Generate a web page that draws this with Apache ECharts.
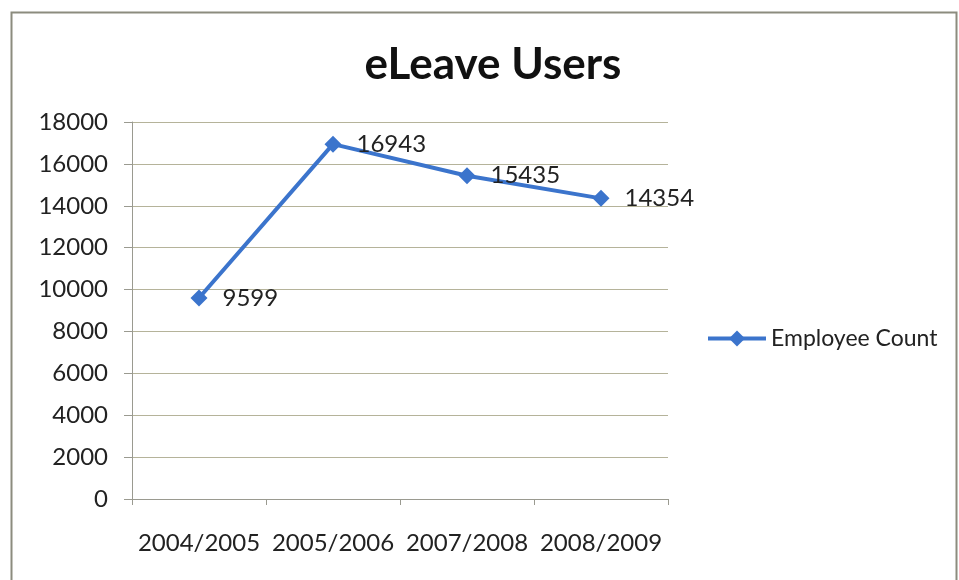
<!DOCTYPE html>
<html><head><meta charset="utf-8">
<script src="https://cdn.jsdelivr.net/npm/echarts@6/dist/echarts.min.js"></script>
<style>html,body{margin:0;padding:0;background:#fff}#c{width:959px;height:580px}</style>
</head><body><div id="c"></div>
<script>
const categories = ['2004/2005', '2005/2006', '2007/2008', '2008/2009'];
const employeeCount = [9599, 16943, 15435, 14354];
const seriesName = 'Employee Count';
const titleText = 'eLeave Users';

const chart = echarts.init(document.getElementById('c'));
const font = 'Lato, "Open Sans", sans-serif';
chart.setOption({
  animation: false,
  backgroundColor: '#fff',
  graphic: [{
    type: 'rect', left: 9, top: 10,
    shape: { width: 945, height: 590 },
    style: { fill: 'none', stroke: '#8c8c7e', lineWidth: 2 }
  }],
  title: {
    text: titleText, left: 488, top: 38, textAlign: 'center',
    textStyle: { fontFamily: font, fontSize: 44, fontWeight: 'bold', color: '#111' }
  },
  legend: {
    left: 701, top: 322, itemWidth: 58, itemHeight: 20, itemGap: 4,
    data: [seriesName],
    lineStyle: { width: 4 },
    textStyle: { fontFamily: font, fontSize: 23, color: '#222' }
  },
  grid: { left: 132, right: 291, top: 122, bottom: 81, containLabel: false },
  xAxis: {
    type: 'category', data: categories, boundaryGap: true,
    axisLine: { lineStyle: { color: '#9a9a90', width: 1 } },
    axisTick: { show: true, length: 6, lineStyle: { color: '#9a9a90' } },
    axisLabel: { interval: 0, fontFamily: font, fontSize: 24, color: '#222', margin: 32 }
  },
  yAxis: {
    type: 'value', min: 0, max: 18000, interval: 2000,
    axisLine: { show: true, lineStyle: { color: '#9a9a90' } },
    axisTick: { show: true, length: 8, inside: false, lineStyle: { color: '#9a9a90' } },
    splitLine: { lineStyle: { color: '#b5b39a', width: 1.2 } },
    axisLabel: { fontFamily: font, fontSize: 24, color: '#222', margin: 24, formatter: v => String(v) }
  },
  series: [{
    name: seriesName, type: 'line', data: employeeCount,
    symbol: 'diamond', symbolSize: 17,
    lineStyle: { color: '#3b74cc', width: 4 },
    itemStyle: { color: '#3b74cc' },
    label: {
      show: true, position: 'right', distance: 15,
      fontFamily: font, fontSize: 24, color: '#222'
    }
  }]
});
</script></body></html>
